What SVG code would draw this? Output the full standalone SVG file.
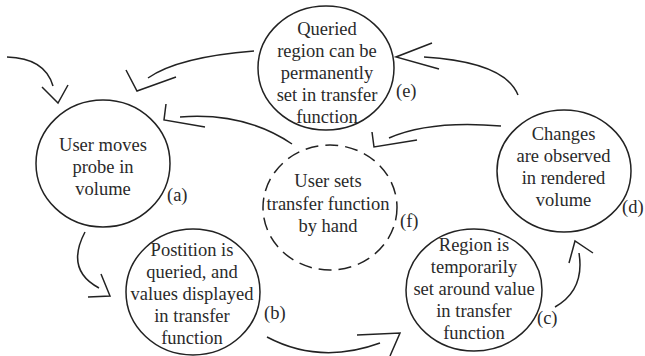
<svg xmlns="http://www.w3.org/2000/svg" width="645" height="356" viewBox="0 0 645 356">
<style>
.node{fill:none;stroke:#222;stroke-width:1.5}
.dash{stroke-dasharray:13 7}
text{font-family:'Liberation Serif',serif;font-size:18.5px;fill:#2a2a2a}
.t{text-anchor:middle}
.c path,.c polyline{fill:none;stroke:#222;stroke-width:1.5}
</style>
<rect width="645" height="356" fill="#fff"/>
<g id="node-a">
<ellipse class="node" cx="103" cy="163.5" rx="67" ry="63.5"/>
<text class="t" font-family="Liberation Serif"><tspan x="103" y="151">User moves</tspan><tspan x="103" y="173">probe in</tspan><tspan x="103" y="195">volume</tspan></text>
<text font-family="Liberation Serif" x="167" y="201">(a)</text>
</g>
<g id="node-b">
<ellipse class="node" cx="193" cy="292" rx="67" ry="63"/>
<text class="t" font-family="Liberation Serif"><tspan x="192" y="256">Postition is</tspan><tspan x="192" y="278">queried, and</tspan><tspan x="192" y="300">values displayed</tspan><tspan x="192" y="322">in transfer</tspan><tspan x="192" y="344">function</tspan></text>
<text font-family="Liberation Serif" x="264" y="319">(b)</text>
</g>
<g id="node-c">
<ellipse class="node" cx="474" cy="290" rx="68" ry="61"/>
<text class="t" font-family="Liberation Serif"><tspan x="474" y="251">Region is</tspan><tspan x="474" y="273">temporarily</tspan><tspan x="474" y="295">set around value</tspan><tspan x="474" y="317">in transfer</tspan><tspan x="474" y="339">function</tspan></text>
<text font-family="Liberation Serif" x="537" y="324">(c)</text>
</g>
<g id="node-d">
<ellipse class="node" cx="564" cy="171" rx="67" ry="61"/>
<text class="t" font-family="Liberation Serif"><tspan x="563.5" y="140">Changes</tspan><tspan x="563.5" y="162">are observed</tspan><tspan x="563.5" y="184">in rendered</tspan><tspan x="563.5" y="206">volume</tspan></text>
<text font-family="Liberation Serif" x="622" y="213">(d)</text>
</g>
<g id="node-e">
<ellipse class="node" cx="326" cy="68" rx="68" ry="62"/>
<text class="t" font-family="Liberation Serif"><tspan x="327" y="35">Queried</tspan><tspan x="327" y="57">region can be</tspan><tspan x="327" y="79">permanently</tspan><tspan x="327" y="101">set in transfer</tspan><tspan x="327" y="123">function</tspan></text>
<text font-family="Liberation Serif" x="396" y="97">(e)</text>
</g>
<g id="node-f">
<ellipse class="node dash" cx="330" cy="207.5" rx="67" ry="62.5"/>
<text class="t" font-family="Liberation Serif"><tspan x="328" y="187">User sets</tspan><tspan x="328" y="210">transfer function</tspan><tspan x="328" y="232">by hand</tspan></text>
<text font-family="Liberation Serif" x="400" y="227">(f)</text>
</g>
<g id="connectors" class="c">
<path d="M7,57 Q45,58 53,86"/>
<polyline points="42,87 58,103 68,85"/>
<path d="M254,51 Q178,57 148,78"/>
<polyline points="126,70 137,91 176,77"/>
<path d="M292,144 Q245,112 180,117"/>
<polyline points="166,104 164,120 205,127"/>
<path d="M518,95 Q505,62 424,57"/>
<polyline points="432,43 396,57 439,69"/>
<path d="M501,126 Q430,120 389,138"/>
<polyline points="372,132 374,147 417,140"/>
<path d="M85,232 Q65,270 99,288"/>
<polyline points="101,274 110,296 88,297"/>
<path d="M267,337 Q320,365 380,343"/>
<polyline points="357,335 400,333 390,356"/>
<path d="M555,307 Q585,290 579,253"/>
<polyline points="569,263 575,241 593,253"/>
</g>
</svg>
